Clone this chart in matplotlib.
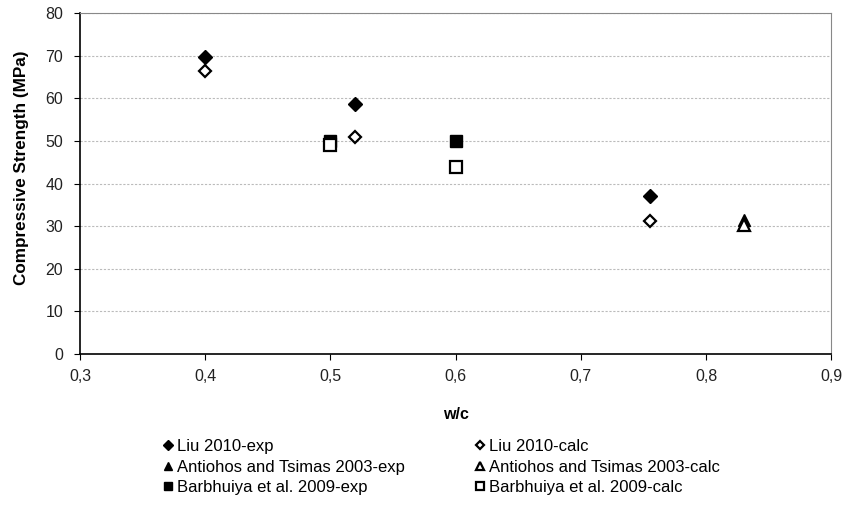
import matplotlib.pyplot as plt
from matplotlib.ticker import FuncFormatter

plt.rcParams['font.family'] = ['Liberation Sans', 'DejaVu Sans']

# w/c ratios and compressive strengths (MPa)
liu_wc = [0.40, 0.52, 0.755]
liu_exp = [69.7, 58.6, 37.0]
liu_calc = [66.5, 51.0, 31.2]

antiohos_wc = [0.83]
antiohos_exp = [31.4]
antiohos_calc = [30.3]

barbhuiya_wc = [0.50, 0.60]
barbhuiya_exp = [50.0, 50.0]
barbhuiya_calc = [49.0, 43.8]

fig = plt.figure(figsize=(8.45, 5.08), dpi=100)
ax = fig.add_axes([0.0947, 0.303, 0.889, 0.671])

h1, = ax.plot(liu_wc, liu_exp, 'D', ms=7, color='black', label='Liu 2010-exp')
h2, = ax.plot(antiohos_wc, antiohos_exp, '^', ms=9, color='black', label='Antiohos and Tsimas 2003-exp')
h3, = ax.plot(barbhuiya_wc, barbhuiya_exp, 's', ms=9, color='black', label='Barbhuiya et al. 2009-exp')
h4, = ax.plot(liu_wc, liu_calc, 'D', ms=6.5, mfc='white', mec='black', mew=1.6, label='Liu 2010-calc')
h5, = ax.plot(antiohos_wc, antiohos_calc, '^', ms=8, mfc='white', mec='black', mew=1.6,
              label='Antiohos and Tsimas 2003-calc')
h6, = ax.plot(barbhuiya_wc, barbhuiya_calc, 's', ms=8.5, mfc='white', mec='black', mew=1.6,
              label='Barbhuiya et al. 2009-calc')

ax.set_xlim(0.3, 0.9)
ax.set_ylim(0, 80)
ax.set_xticks([0.3, 0.4, 0.5, 0.6, 0.7, 0.8, 0.9])
ax.set_yticks(range(0, 81, 10))
ax.xaxis.set_major_formatter(FuncFormatter(lambda v, p: f'{v:.1f}'.replace('.', ',')))
ax.tick_params(axis='both', direction='out', length=4, color='black', labelsize=11.5, labelcolor='#222222')
ax.tick_params(axis='x', pad=7)
ax.tick_params(axis='y', pad=8)
ax.yaxis.grid(True, linestyle=(0, (2, 1.5)), color='#bbbbbb', linewidth=0.8)
ax.set_axisbelow(True)

for side in ['top', 'right']:
    ax.spines[side].set_color('#888888')
for side in ['left', 'bottom']:
    ax.spines[side].set_color('black')
    ax.spines[side].set_linewidth(1.2)

ax.set_xlabel('w/c', fontsize=11.5, fontweight='bold', labelpad=16)
ax.set_ylabel('Compressive Strength (MPa)', fontsize=12.3, fontweight='bold')
ax.yaxis.set_label_coords(-0.068, 0.548)

leg = fig.legend(handles=[h1, h2, h3, h4, h5, h6], ncol=2, loc='upper left',
                 bbox_to_anchor=(0.176, 0.165), frameon=False, fontsize=12,
                 handlelength=0.5, handletextpad=0.3, columnspacing=4.25, labelspacing=0.32,
                 markerscale=0.7)

fig.savefig('out.png', dpi=100)
